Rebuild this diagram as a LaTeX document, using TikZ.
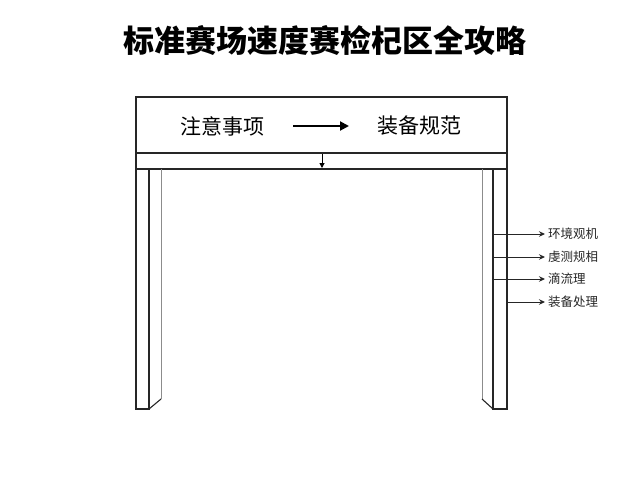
\documentclass[tikz,border=0pt]{standalone}
\usepackage{fontspec}
\newfontfamily\cjk{Noto Sans CJK SC}
\usetikzlibrary{arrows.meta}
\begin{document}
\begin{tikzpicture}[x=1pt,y=-1pt,
  dark/.style={draw=black!85,line width=1.1pt},
  light/.style={draw=black!45,line width=0.9pt},
  lbl/.style={font=\cjk\fontsize{12.5}{14}\selectfont,anchor=west,inner sep=0pt,text=black!85},
  side/.style={draw=black!85,line width=0.9pt,shorten >=3pt,-{Stealth[length=6pt,width=5.5pt]}}]
\useasboundingbox[fill=white] (0,0) rectangle (640,480);
% title
\node[font=\cjk\bfseries\fontsize{31}{34}\selectfont,inner sep=0pt] (title) at (325,40) {标准赛场速度赛检杞区全攻略};
% top beam
\draw[dark] (136,97) rectangle (507,153);
\draw[dark] (136,153) rectangle (507,169);
% left pillar
\draw[dark] (136,169) -- (136,409) -- (149,409) -- (149,169);
\draw[light] (161,169) -- (161,399);
\draw[dark] (149,409) -- (161,399);
% right pillar
\draw[dark] (507,169) -- (507,409) -- (493,409) -- (493,169);
\draw[light] (482,169) -- (482,399);
\draw[dark] (493,409) -- (482,399);
% texts in beam
\node[font=\cjk\fontsize{21}{24}\selectfont,inner sep=0pt] (a) at (222,126) {注意事项};
\node[font=\cjk\fontsize{21}{24}\selectfont,inner sep=0pt] (b) at (419,126) {装备规范};
\coordinate (ar1) at (293,126);
\coordinate (ar2) at (349,126);
\draw[line width=2pt,-{Triangle[length=9pt,width=9pt]}] (ar1) -- (ar2);
\coordinate (d1) at (322,154);
\coordinate (d2) at (322,168);
\draw[line width=1pt,-{Triangle[length=5pt,width=5pt]}] (d1) -- (d2);
% side labels
\node[lbl] (l1) at (548,234) {环境观机};
\node[lbl] (l2) at (548,257) {虔测规相};
\node[lbl] (l3) at (548,279) {滴流理};
\node[lbl] (l4) at (548,302) {装备处理};
\coordinate (s1) at (493,234);
\coordinate (s2) at (493,257);
\coordinate (s3) at (493,279);
\coordinate (s4) at (507,302);
\draw[side] (s1) -- (l1.west);
\draw[side] (s2) -- (l2.west);
\draw[side] (s3) -- (l3.west);
\draw[side] (s4) -- (l4.west);
\end{tikzpicture}
\end{document}
